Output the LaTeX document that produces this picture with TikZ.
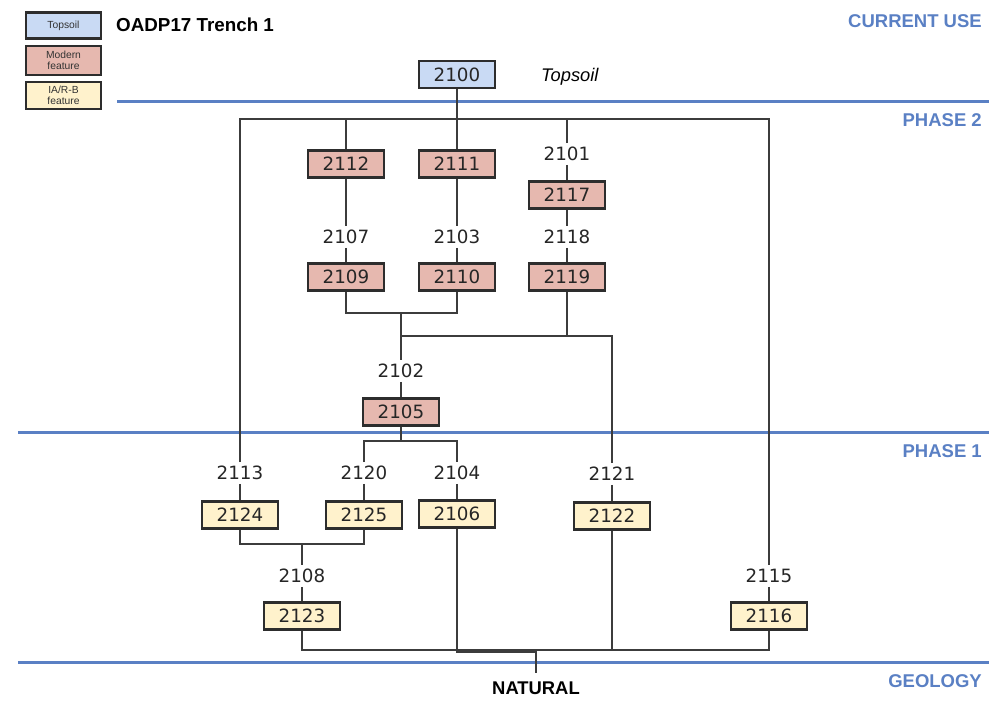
\documentclass[tikz,border=0pt]{standalone}
\usepackage{fontspec}
\setmainfont{DejaVu Sans}
\newfontfamily\arial{Liberation Sans}
\definecolor{phaseblue}{RGB}{90,128,196}
\definecolor{topfill}{RGB}{201,218,244}
\definecolor{modfill}{RGB}{230,184,175}
\definecolor{iafill}{RGB}{255,242,204}
\definecolor{edge}{RGB}{45,45,45}
\definecolor{conncol}{RGB}{60,60,60}
\tikzset{
  ctx/.style={font=\fontsize{18.3}{20}\selectfont, text=black!85, text height=13.3pt, text depth=0pt},
  ctxbox/.style={ctx, draw=edge, line width=2.3pt, minimum width=76pt, minimum height=27pt, inner sep=0pt},
  topbox/.style={ctxbox, fill=topfill},
  modbox/.style={ctxbox, fill=modfill},
  iabox/.style={ctxbox, fill=iafill},
  lbl/.style={ctx, inner sep=0pt, inner ysep=4pt},
  conn/.style={draw=conncol, line width=1.3pt},
  phaseline/.style={draw=phaseblue, line width=3pt},
  phasetxt/.style={font=\arial\bfseries\fontsize{18.5}{20}\selectfont, text=phaseblue, anchor=base east, inner sep=0pt},
  legbox/.style={draw=edge, line width=2.2pt, minimum width=75pt, inner sep=0pt, align=center,
     font=\arial\fontsize{10.3}{11}\selectfont, text=black!80},
}
\begin{document}
\begin{tikzpicture}[x=1pt,y=-1pt]
\useasboundingbox (0,0) rectangle (989,703);

% phase lines
\draw[phaseline] (117,102) -- (989,102);
\draw[phaseline] (18,433) -- (989,433);
\draw[phaseline] (18,662) -- (989,662);
\node[phasetxt] (hcur) at (982,27.6) {CURRENT USE};
\node[phasetxt] (hp2) at (982,126.6) {PHASE 2};
\node[phasetxt] (hp1) at (982,457.6) {PHASE 1};
\node[phasetxt] (hgeo) at (982,687.6) {GEOLOGY};

% legend
\node[legbox, fill=topfill, minimum height=26pt] (legtop) at (63.5,25.5) {Topsoil};
\node[legbox, fill=modfill, minimum height=29pt] (legmod) at (63.5,60.5) {Modern\\feature};
\node[legbox, fill=iafill, minimum height=27pt] (legia) at (63.5,95.5) {IA/R-B\\feature};
\node[font=\arial\bfseries\fontsize{18.8}{20}\selectfont, anchor=base west, inner sep=0pt] (title) at (116,32) {OADP17 Trench 1};

% topsoil
\node[topbox] (b2100) at (457,74.5) {2100};
\node[font=\arial\itshape\fontsize{18.3}{20}\selectfont, anchor=base west, inner sep=0pt] (tlab) at (541,81.5) {Topsoil};

% phase 2
\node[modbox] (b2112) at (346,164) {2112};
\node[modbox] (b2111) at (457,164) {2111};
\node[lbl] (l2101) at (567,154) {2101};
\node[modbox] (b2117) at (567,195) {2117};
\node[lbl] (l2107) at (346,237) {2107};
\node[lbl] (l2103) at (457,237) {2103};
\node[lbl] (l2118) at (567,237) {2118};
\node[modbox] (b2109) at (346,277) {2109};
\node[modbox] (b2110) at (457,277) {2110};
\node[modbox] (b2119) at (567,277) {2119};
\node[lbl] (l2102) at (401,371) {2102};
\node[modbox] (b2105) at (401,412) {2105};

% phase 1
\node[lbl] (l2113) at (240,473) {2113};
\node[lbl] (l2120) at (364,473) {2120};
\node[lbl] (l2104) at (457,473) {2104};
\node[lbl] (l2121) at (612,474) {2121};
\node[iabox] (b2124) at (240,515) {2124};
\node[iabox] (b2125) at (364,515) {2125};
\node[iabox] (b2106) at (457,514) {2106};
\node[iabox] (b2122) at (612,516) {2122};
\node[lbl] (l2108) at (302,576) {2108};
\node[iabox] (b2123) at (302,616) {2123};
\node[lbl] (l2115) at (769,576) {2115};
\node[iabox] (b2116) at (769,616) {2116};

\node[font=\arial\bfseries\fontsize{18.4}{20}\selectfont, text height=13.2pt, text depth=0pt, inner sep=0pt, inner ysep=8pt] (nat) at (536,688) {NATURAL};

% junction coordinates
\coordinate (fL) at (240,119);
\coordinate (fR) at (769,119);
\coordinate (j1) at (401,313);
\coordinate (j2) at (401,336);
\coordinate (j3) at (401,441);
\coordinate (j4) at (302,544);
\coordinate (jb) at (536,650);
\coordinate (jn) at (536,652);

% connectors
\draw[conn] (b2100) -- (b2111);
\draw[conn] (l2113.north) -- (fL) -- (fR) -- (l2115.north);
\draw[conn] (b2112.north) -- (b2112.north |- fL);
\draw[conn] (l2101.north) -- (l2101.north |- fL);
\draw[conn] (l2101) -- (b2117);
\draw[conn] (b2117) -- (l2118);
\draw[conn] (b2112) -- (l2107);
\draw[conn] (b2111) -- (l2103);
\draw[conn] (l2107) -- (b2109);
\draw[conn] (l2103) -- (b2110);
\draw[conn] (l2118) -- (b2119);
\draw[conn] (b2109.south) |- (j1) -| (b2110.south);
\draw[conn] (j1) -- (l2102.north);
\draw[conn] (j2) -| (b2119.south);
\draw[conn] (b2119.south |- j2) -| (l2121.north);
\draw[conn] (l2102) -- (b2105);
\draw[conn] (b2105.south) -- (j3);
\draw[conn] (l2120.north) |- (j3) -| (l2104.north);
\draw[conn] (l2113) -- (b2124);
\draw[conn] (l2120) -- (b2125);
\draw[conn] (l2104) -- (b2106);
\draw[conn] (l2121) -- (b2122);
\draw[conn] (b2124.south) |- (j4) -| (b2125.south);
\draw[conn] (j4) -- (l2108.north);
\draw[conn] (l2108) -- (b2123);
\draw[conn] (l2115) -- (b2116);
\draw[conn] (b2123.south) |- (jb) -| (b2116.south);
\draw[conn] (b2122.south) -- (b2122.south |- jb);
\draw[conn] (b2106.south) |- (jn) -- (nat.north);
\end{tikzpicture}
\end{document}
